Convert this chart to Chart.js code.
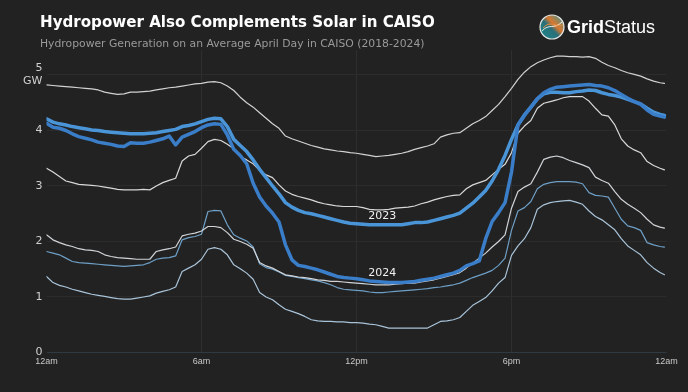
<!DOCTYPE html>
<html>
<head>
<meta charset="utf-8">
<script src="https://cdn.jsdelivr.net/npm/chart.js@4"></script>
<style>
  html, body { margin: 0; padding: 0; background: #222222; }
  #wrap { width: 688px; height: 392px; position: relative; }
</style>
</head>
<body>
<div id="wrap"><canvas id="c" width="688" height="392"></canvas></div>
<script>
// ---------- DATA ----------
const titleText = "Hydropower Also Complements Solar in CAISO";
const subtitleText = "Hydropower Generation on an Average April Day in CAISO (2018-2024)";
const xTickValues = [0, 6, 12, 18, 24];
const xTickLabels = ["12am", "6am", "12pm", "6pm", "12am"];
const yTickValues = [0, 1, 2, 3, 4, 5];
const yUnit = "GW";

const hours = [0,0.25,0.5,0.75,1,1.25,1.5,1.75,2,2.25,2.5,2.75,3,3.25,3.5,3.75,
  4,4.25,4.5,4.75,5,5.25,5.5,5.75,6,6.25,6.5,6.75,7,7.25,7.5,7.75,
  8,8.25,8.5,8.75,9,9.25,9.5,9.75,10,10.25,10.5,10.75,11,11.25,11.5,11.75,
  12,12.25,12.5,12.75,13,13.25,13.5,13.75,14,14.25,14.5,14.75,15,15.25,15.5,15.75,
  16,16.25,16.5,16.75,17,17.25,17.5,17.75,18,18.25,18.5,18.75,19,19.25,19.5,19.75,
  20,20.25,20.5,20.75,21,21.25,21.5,21.75,22,22.25,22.5,22.75,23,23.25,23.5,23.75,23.92];

const y2019 = [4.82,4.81,4.80,4.79,4.78,4.77,4.76,4.75,4.73,4.69,4.67,4.65,4.66,4.69,4.69,4.70,
  4.71,4.73,4.75,4.77,4.78,4.80,4.82,4.84,4.85,4.87,4.88,4.86,4.80,4.72,4.60,4.50,
  4.42,4.32,4.22,4.12,4.04,3.90,3.85,3.81,3.77,3.73,3.70,3.67,3.65,3.63,3.62,3.60,
  3.59,3.57,3.55,3.53,3.54,3.55,3.57,3.59,3.62,3.66,3.69,3.72,3.76,3.88,3.92,3.95,
  3.96,4.04,4.12,4.18,4.25,4.36,4.47,4.61,4.76,4.92,5.05,5.15,5.22,5.27,5.31,5.34,
  5.34,5.33,5.33,5.32,5.33,5.30,5.23,5.17,5.13,5.08,5.04,5.01,4.98,4.93,4.89,4.86,4.85];

const y2023 = [4.21,4.15,4.12,4.10,4.07,4.05,4.03,4.01,4.00,3.98,3.97,3.96,3.95,3.94,3.94,3.94,
  3.95,3.96,3.98,4.00,4.02,4.07,4.09,4.12,4.16,4.20,4.22,4.21,4.07,3.84,3.73,3.62,
  3.47,3.30,3.15,3.00,2.86,2.70,2.62,2.56,2.52,2.50,2.47,2.44,2.41,2.38,2.35,2.33,
  2.32,2.31,2.30,2.30,2.30,2.30,2.30,2.30,2.32,2.34,2.34,2.35,2.38,2.41,2.44,2.47,
  2.51,2.60,2.69,2.80,2.92,3.09,3.30,3.55,3.84,4.10,4.28,4.42,4.57,4.66,4.69,4.69,
  4.68,4.68,4.70,4.71,4.73,4.72,4.68,4.65,4.63,4.60,4.56,4.52,4.48,4.40,4.33,4.29,4.27];

const y2024 = [4.13,4.06,4.04,4.00,3.94,3.89,3.86,3.83,3.79,3.77,3.75,3.72,3.71,3.78,3.77,3.77,
  3.79,3.82,3.85,3.90,3.74,3.88,3.93,3.98,4.05,4.10,4.12,4.11,3.92,3.66,3.55,3.40,
  3.05,2.80,2.64,2.51,2.35,1.94,1.67,1.57,1.55,1.52,1.49,1.45,1.41,1.37,1.35,1.34,
  1.33,1.31,1.29,1.28,1.27,1.26,1.26,1.26,1.27,1.28,1.30,1.32,1.34,1.37,1.40,1.43,
  1.48,1.56,1.60,1.65,2.05,2.36,2.52,2.70,3.25,4.10,4.27,4.42,4.57,4.68,4.74,4.78,
  4.79,4.80,4.81,4.82,4.83,4.81,4.80,4.77,4.72,4.65,4.58,4.52,4.47,4.37,4.29,4.26,4.24];

const y2018 = [3.32,3.25,3.17,3.09,3.06,3.03,3.02,3.01,3.00,2.98,2.96,2.94,2.93,2.93,2.93,2.94,
  2.93,3.00,3.06,3.10,3.14,3.45,3.54,3.57,3.68,3.80,3.84,3.82,3.75,3.67,3.53,3.47,
  3.40,3.28,3.20,3.15,3.02,2.91,2.85,2.81,2.78,2.75,2.71,2.68,2.66,2.64,2.63,2.63,
  2.63,2.61,2.58,2.57,2.57,2.58,2.60,2.61,2.62,2.64,2.68,2.71,2.75,2.78,2.81,2.83,
  2.84,2.95,3.02,3.06,3.10,3.20,3.30,3.39,3.60,3.95,4.08,4.18,4.40,4.49,4.52,4.55,
  4.59,4.61,4.61,4.61,4.53,4.40,4.28,4.26,4.10,3.85,3.72,3.65,3.60,3.44,3.37,3.32,3.29];

const y2020 = [2.12,2.03,1.98,1.94,1.91,1.87,1.85,1.84,1.82,1.76,1.73,1.71,1.70,1.69,1.68,1.68,
  1.68,1.82,1.85,1.87,1.90,2.10,2.13,2.15,2.19,2.27,2.27,2.25,2.16,2.04,2.00,1.95,
  1.88,1.62,1.56,1.52,1.46,1.40,1.38,1.36,1.35,1.33,1.31,1.30,1.28,1.28,1.27,1.26,
  1.25,1.24,1.23,1.22,1.22,1.22,1.23,1.24,1.25,1.25,1.27,1.29,1.31,1.34,1.37,1.40,
  1.44,1.52,1.61,1.70,1.79,1.90,2.00,2.12,2.60,2.90,2.98,3.04,3.25,3.48,3.52,3.54,
  3.51,3.46,3.42,3.38,3.33,3.16,3.10,3.05,2.90,2.76,2.67,2.60,2.52,2.40,2.30,2.26,2.24];

const y2022 = [1.82,1.79,1.76,1.70,1.64,1.62,1.61,1.60,1.59,1.58,1.57,1.56,1.55,1.56,1.57,1.58,
  1.62,1.68,1.70,1.71,1.74,2.03,2.07,2.09,2.13,2.54,2.56,2.55,2.30,2.12,2.06,2.01,
  1.90,1.60,1.53,1.50,1.45,1.39,1.37,1.35,1.33,1.31,1.29,1.26,1.22,1.17,1.14,1.13,
  1.12,1.11,1.09,1.08,1.08,1.09,1.10,1.11,1.12,1.13,1.14,1.15,1.17,1.18,1.20,1.22,
  1.25,1.30,1.35,1.39,1.43,1.48,1.57,1.70,2.20,2.55,2.61,2.72,2.95,3.03,3.06,3.08,
  3.08,3.08,3.07,3.04,2.88,2.83,2.82,2.80,2.60,2.40,2.28,2.25,2.20,1.98,1.94,1.91,1.90];

const y2021 = [1.37,1.26,1.21,1.18,1.14,1.11,1.08,1.05,1.03,1.01,0.99,0.97,0.96,0.96,0.98,1.00,
  1.02,1.07,1.10,1.13,1.18,1.46,1.52,1.58,1.68,1.86,1.89,1.86,1.76,1.58,1.51,1.43,
  1.32,1.08,1.00,0.95,0.86,0.78,0.74,0.70,0.65,0.59,0.57,0.56,0.56,0.55,0.55,0.54,
  0.54,0.53,0.51,0.50,0.47,0.44,0.44,0.44,0.44,0.44,0.44,0.44,0.50,0.56,0.57,0.59,
  0.63,0.74,0.85,0.92,0.99,1.11,1.25,1.35,1.75,1.92,2.05,2.25,2.58,2.66,2.70,2.72,
  2.73,2.74,2.71,2.67,2.55,2.45,2.39,2.30,2.21,2.05,1.92,1.84,1.76,1.62,1.52,1.44,1.40];

const lineLabels = [
  { text: "2023", hour: 13.0, value: 2.30 },
  { text: "2024", hour: 13.0, value: 1.26 }
];

// ---------- CHART ----------
const toPts = arr => arr.map((v, i) => ({ x: hours[i], y: v }));

function ds(label, arr, color, width, order) {
  return {
    label, data: toPts(arr), borderColor: color, borderWidth: width,
    pointRadius: 0, tension: 0, fill: false, order,
    borderJoinStyle: 'round', borderCapStyle: 'round'
  };
}

const bgPlugin = {
  id: 'bg',
  beforeDraw(chart) {
    const c = chart.ctx;
    c.save();
    c.fillStyle = '#222222';
    c.fillRect(0, 0, chart.width, chart.height);
    c.restore();
  },
  afterDraw(chart) {
    const c = chart.ctx;
    c.save();
    // title
    c.fillStyle = '#ffffff';
    c.textBaseline = 'alphabetic';
    c.textAlign = 'left';
    c.font = 'bold 15.1px "DejaVu Sans", Verdana, sans-serif';
    c.fillText(titleText, 40, 27);
    c.fillStyle = '#9a9a9a';
    c.font = '10.8px "DejaVu Sans", Verdana, sans-serif';
    c.fillText(subtitleText, 40, 47);

    // logo
    const cx = 552, cy = 27, r = 12;
    const g = c.createLinearGradient(cx - r, cy + r, cx + r, cy - r);
    g.addColorStop(0, '#1a8a8a');
    g.addColorStop(0.45, '#2a6f7a');
    g.addColorStop(0.6, '#d9772e');
    g.addColorStop(1, '#2a9aa0');
    c.beginPath(); c.arc(cx, cy, r, 0, Math.PI * 2); c.fillStyle = g; c.fill();
    c.strokeStyle = '#e8e8e8'; c.lineWidth = 1.2;
    c.beginPath(); c.arc(cx, cy, r, 0, Math.PI * 2); c.stroke();
    c.strokeStyle = 'rgba(255,255,255,0.85)'; c.lineWidth = 1;
    c.beginPath(); c.moveTo(cx - 10, cy + 4); c.bezierCurveTo(cx - 3, cy - 4, cx + 2, cy + 3, cx + 10, cy - 5); c.stroke();
    c.strokeStyle = '#e88a3a';
    c.beginPath(); c.moveTo(cx - 9, cy + 1); c.bezierCurveTo(cx - 2, cy - 7, cx + 3, cy, cx + 11, cy - 2); c.stroke();

    c.fillStyle = '#ffffff';
    c.font = 'bold 18px "Liberation Sans", Arial, sans-serif';
    c.fillText('Grid', 567, 33);
    const w = c.measureText('Grid').width;
    c.font = '18px "Liberation Sans", Arial, sans-serif';
    c.fillText('Status', 567 + w, 33);

    // line labels
    const xs = chart.scales.x, ys = chart.scales.y;
    c.font = '11px "DejaVu Sans", Verdana, sans-serif';
    c.fillStyle = '#f0f0f0';
    c.textAlign = 'center';
    c.textBaseline = 'middle';
    lineLabels.forEach(l => {
      c.fillText(l.text, xs.getPixelForValue(l.hour), ys.getPixelForValue(l.value) - 9);
    });
    c.restore();
  }
};

new Chart(document.getElementById('c'), {
  type: 'line',
  data: {
    datasets: [
      ds('2024', y2024, '#3a7dc8', 3.5, 0),
      ds('2023', y2023, '#4a95d8', 3.5, 1),
      ds('2019', y2019, '#d2d2d2', 1.2, 2),
      ds('2018', y2018, '#d8d8d8', 1.2, 2),
      ds('2020', y2020, '#d0d4d8', 1.2, 2),
      ds('2022', y2022, '#6e9fc6', 1.2, 2),
      ds('2021', y2021, '#a9c3d8', 1.2, 2)
    ]
  },
  options: {
    responsive: false,
    animation: false,
    layout: { padding: { top: 50, right: 21.5, bottom: 0, left: 0 } },
    plugins: { legend: { display: false }, tooltip: { enabled: false }, title: { display: false } },
    scales: {
      x: {
        type: 'linear', min: 0, max: 24,
        afterBuildTicks: s => { s.ticks = xTickValues.map(v => ({ value: v })); },
        afterFit: s => { s.height = 39.5; },
        ticks: {
          color: '#c8c8c8', font: { size: 9, family: '"Liberation Sans", Arial, sans-serif' },
          padding: 4, maxRotation: 0, autoSkip: false,
          callback: v => xTickLabels[xTickValues.indexOf(v)]
        },
        grid: {
          color: ctx => (ctx.tick && (ctx.tick.value === 0 || ctx.tick.value === 24)) ? 'rgba(0,0,0,0)' : '#2e2e2e',
          drawTicks: false, lineWidth: 1
        },
        border: { display: false }
      },
      y: {
        type: 'linear', min: 0, max: 5.45,
        afterBuildTicks: s => { s.ticks = yTickValues.map(v => ({ value: v })); },
        afterFit: s => { s.width = 46.5; },
        ticks: {
          color: '#d0d0d0', font: { size: 11, family: '"DejaVu Sans", Verdana, sans-serif' },
          padding: 4,
          callback: v => v === 5 ? ['5', yUnit] : String(v)
        },
        grid: {
          color: ctx => (ctx.tick && ctx.tick.value === 0) ? '#2f3942' : '#2c2c2c',
          drawTicks: false, lineWidth: 1
        },
        border: { display: false }
      }
    }
  },
  plugins: [bgPlugin]
});
</script>
</body>
</html>
